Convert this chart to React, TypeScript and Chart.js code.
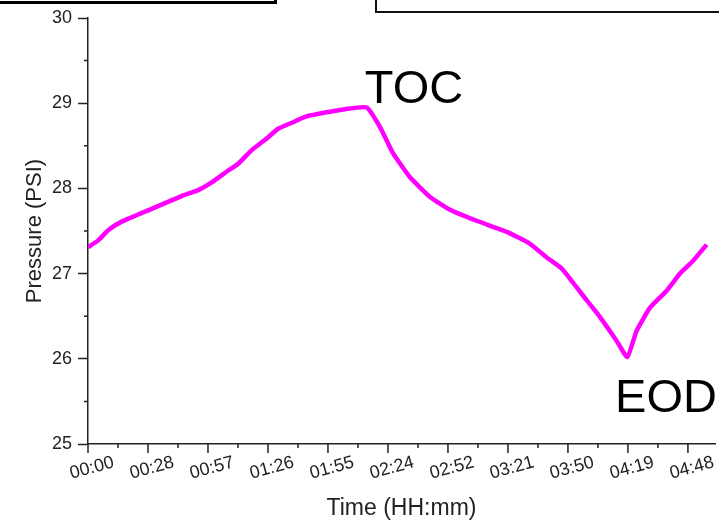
import React, { useEffect, useRef } from "react";
import { Chart, registerables } from "chart.js";

Chart.register(...registerables);

// Time in minutes since start
const timeMinutes = [
  0, 4.9, 9.7, 16.2, 30.6, 45.0, 52.9, 59.4, 67.3, 72.1, 78.6, 85.0, 91.3, 97.8,
  104.2, 113.8, 123.4, 133.8, 140.2, 146.5, 154.6, 164.2, 173.8, 186.6, 201.0,
  212.2, 220.2, 227.4, 237.7, 245.8, 253.8, 258.9, 263.4, 269.8, 277.8, 284.2,
  290.5, 297.0,
];
const pressurePSI = [
  27.31, 27.39, 27.51, 27.61, 27.76, 27.91, 27.98, 28.07, 28.21, 28.29, 28.45,
  28.57, 28.7, 28.77, 28.84, 28.89, 28.93, 28.95, 28.72, 28.41, 28.13, 27.9,
  27.75, 27.62, 27.49, 27.35, 27.19, 27.06, 26.74, 26.49, 26.21, 26.02, 26.33,
  26.6, 26.8, 27.0, 27.15, 27.34,
];
const xTickMinutes = [0, 28.8, 57.6, 86.4, 115.2, 144, 172.8, 201.6, 230.4, 259.2, 288];
const xTickLabels = [
  "00:00", "00:28", "00:57", "01:26", "01:55", "02:24", "02:52", "03:21", "03:50", "04:19", "04:48",
];
const yTicks = [25, 26, 27, 28, 29, 30];
const annotations = [
  { text: "TOC", t: 156.5, v: 29.16 },
  { text: "EOD", t: 277.5, v: 25.53 },
];

const FONT = "'Liberation Sans', Arial, Helvetica, sans-serif";

const extrasPlugin = {
  id: "extras",
  afterDraw(chart: any) {
    const ctx = chart.ctx;
    const xs = chart.scales.x;
    const ys = chart.scales.y;
    const area = chart.chartArea;
    ctx.save();
    ctx.strokeStyle = "#222";
    ctx.lineWidth = 1.5;
    ctx.beginPath();
    // major x ticks
    for (let i = 0; i < xTickMinutes.length; i++) {
      const px = xs.getPixelForValue(xTickMinutes[i]);
      ctx.moveTo(px, area.bottom);
      ctx.lineTo(px, area.bottom + 9);
    }
    // minor ticks
    for (let i = 0; i < xTickMinutes.length; i++) {
      const next = i + 1 < xTickMinutes.length ? xTickMinutes[i + 1] : xTickMinutes[i] + 28.8;
      const mid = (xTickMinutes[i] + next) / 2;
      if (mid > xs.max) continue;
      const px = xs.getPixelForValue(mid);
      ctx.moveTo(px, area.bottom);
      ctx.lineTo(px, area.bottom + 4);
    }
    for (let i = 0; i < yTicks.length - 1; i++) {
      const mid = (yTicks[i] + yTicks[i + 1]) / 2;
      const py = ys.getPixelForValue(mid);
      ctx.moveTo(area.left, py);
      ctx.lineTo(area.left - 4, py);
    }
    ctx.stroke();
    // rotated x tick labels, centred under each tick
    ctx.fillStyle = "#222";
    ctx.font = `18px ${FONT}`;
    ctx.textAlign = "center";
    ctx.textBaseline = "middle";
    for (let i = 0; i < xTickMinutes.length; i++) {
      const px = xs.getPixelForValue(xTickMinutes[i]);
      ctx.save();
      ctx.translate(px + 4, area.bottom + 24);
      ctx.rotate((-15 * Math.PI) / 180);
      ctx.fillText(xTickLabels[i], 0, 0);
      ctx.restore();
    }
    // annotations
    ctx.fillStyle = "#000";
    ctx.font = `47px ${FONT}`;
    for (const a of annotations) {
      ctx.fillText(a.text, xs.getPixelForValue(a.t), ys.getPixelForValue(a.v));
    }
    ctx.restore();
  },
};

export default function App() {
  const canvasRef = useRef<HTMLCanvasElement | null>(null);

  useEffect(() => {
    const canvas = canvasRef.current;
    if (!canvas) return;
    const chart = new Chart(canvas, {
      type: "line",
      data: {
        datasets: [
          {
            data: timeMinutes.map((t, i) => ({ x: t, y: pressurePSI[i] })),
            borderColor: "#ff00ff",
            borderWidth: 4.5,
            pointRadius: 0,
            tension: 0.15,
            fill: false,
          },
        ],
      },
      options: {
        animation: false,
        responsive: false,
        maintainAspectRatio: false,
        layout: { padding: { top: 18, right: 4, left: 0, bottom: 0 } },
        plugins: {
          legend: { display: false },
          tooltip: { enabled: false },
        },
        scales: {
          x: {
            type: "linear",
            min: 0,
            max: 301,
            afterBuildTicks: (scale: any) => {
              scale.ticks = xTickMinutes.map((v) => ({ value: v }));
            },
            afterFit: (scale: any) => {
              scale.height = 78;
            },
            ticks: {
              display: false,
              autoSkip: false,
            },
            grid: { display: false },
            border: { display: true, color: "#222", width: 1.5 },
            title: {
              display: true,
              text: "Time (HH:mm)",
              color: "#222",
              font: { family: FONT, size: 23 },
              padding: { top: 0, bottom: 0 },
            },
          },
          y: {
            type: "linear",
            min: 25,
            max: 30,
            afterBuildTicks: (scale: any) => {
              scale.ticks = yTicks.map((v) => ({ value: v }));
            },
            afterFit: (scale: any) => {
              scale.width = 88;
            },
            ticks: {
              color: "#222",
              padding: 6,
              font: { family: FONT, size: 18 },
            },
            grid: {
              display: true,
              drawOnChartArea: false,
              drawTicks: true,
              tickLength: 10,
              color: "#222",
              tickWidth: 1.5,
            },
            border: { display: true, color: "#222", width: 1.5 },
            title: {
              display: true,
              text: "Pressure (PSI)",
              color: "#222",
              font: { family: FONT, size: 22 },
              padding: { top: 22, bottom: 0 },
            },
          },
        },
      },
      plugins: [extrasPlugin],
    });
    return () => chart.destroy();
  }, []);

  return (
    <div style={{ position: "fixed", left: 0, top: 0, width: 719, height: 522, background: "#fff", overflow: "hidden" }}>
      <canvas ref={canvasRef} width={719} height={522} style={{ display: "block" }} />
      <div
        style={{
          position: "absolute",
          left: -4,
          top: -16,
          width: 281,
          height: 20,
          border: "3px solid #000",
          boxSizing: "border-box",
        }}
      />
      <div
        style={{
          position: "absolute",
          left: 375,
          top: -10,
          width: 360,
          height: 23,
          border: "2px solid #111",
          boxSizing: "border-box",
        }}
      />
    </div>
  );
}
